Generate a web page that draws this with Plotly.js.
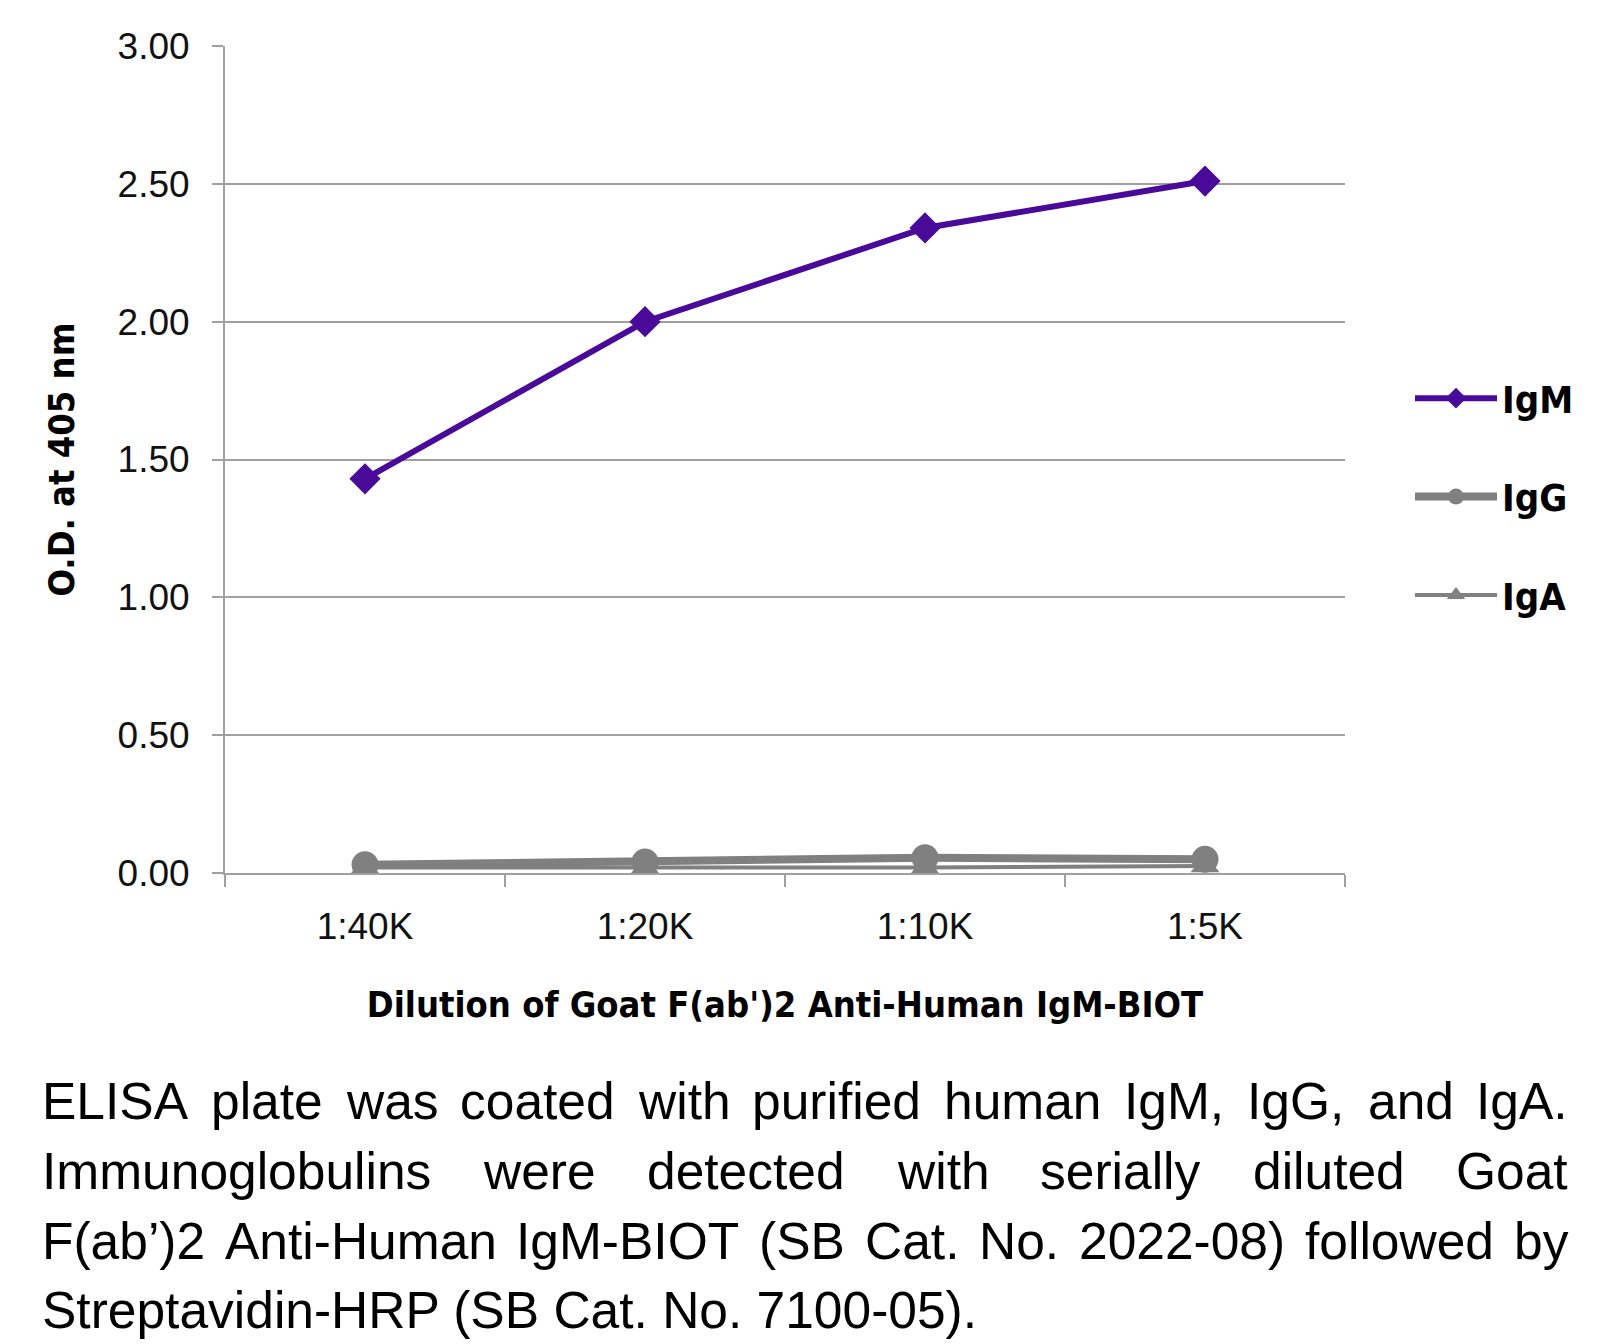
<!DOCTYPE html>
<html><head><meta charset="utf-8">
<script src="https://cdn.plot.ly/plotly-3.0.1.min.js"></script>
<style>html,body{margin:0;padding:0;background:#fff}</style>
</head><body>
<div id="chart" style="width:1614px;height:1344px"></div>
<script>
// ---- data ----
const dilutions = ['1:40K', '1:20K', '1:10K', '1:5K'];
const igmOD = [1.43, 2.00, 2.34, 2.51];
const iggOD = [0.03, 0.04, 0.055, 0.05];
const igaOD = [0.02, 0.02, 0.02, 0.025];
const yTickValues = [0, 0.5, 1, 1.5, 2, 2.5, 3];
const yTickLabels = ['0.00', '0.50', '1.00', '1.50', '2.00', '2.50', '3.00'];
const captionLines = [
  'ELISA plate was coated with purified human IgM, IgG, and IgA.',
  'Immunoglobulins were detected with serially diluted Goat',
  'F(ab’)2 Anti-Human IgM-BIOT (SB Cat. No. 2022-08) followed by',
  'Streptavidin-HRP (SB Cat. No. 7100-05).'
];

// ---- layout geometry ----
const W = 1614, H = 1344;
const L = 225, R = 1345, T = 46, B = 873;
const boldFont = '"DejaVu Sans Condensed", "DejaVu Sans", sans-serif';
const regFont = '"Liberation Sans", Arial, sans-serif';
const capFontSize = 51.5;
const capLeft = 41, capRight = 1567;
const capCenters = [1101, 1171, 1241, 1310];

const purple = '#4a0a99';
const gray = '#808080';
const gridColor = '#a0a0a0';

const traces = [
  {x: dilutions, y: igmOD, name: 'IgM', type: 'scatter', mode: 'lines+markers',
   legendgroup: 'a',
   line: {color: purple, width: 6}, marker: {symbol: 'diamond', size: 24, color: purple}},
  {x: dilutions, y: iggOD, name: 'IgG', type: 'scatter', mode: 'lines+markers',
   legendgroup: 'b',
   line: {color: gray, width: 8}, marker: {symbol: 'circle', size: 27, color: gray}},
  {x: dilutions, y: igaOD, name: 'IgA', type: 'scatter', mode: 'lines+markers',
   legendgroup: 'c',
   line: {color: gray, width: 4}, marker: {symbol: 'triangle-up', size: 25, color: gray}}
];

// caption: justified lines built from word widths
const cnv = document.createElement('canvas').getContext('2d');
cnv.font = capFontSize + 'px "Liberation Sans"';
const px2x = p => (p - L) / (R - L);
const px2y = p => (B - p) / (B - T);
const annotations = [];
captionLines.forEach((line, i) => {
  const yp = px2y(capCenters[i]);
  if (i === captionLines.length - 1) {
    annotations.push({text: line, xref: 'paper', yref: 'paper', x: px2x(capLeft), y: yp,
      xanchor: 'left', yanchor: 'middle', showarrow: false, borderpad: 0,
      font: {family: regFont, size: capFontSize, color: '#000'}});
    return;
  }
  const words = line.split(' ');
  const widths = words.map(w => cnv.measureText(w).width);
  const total = widths.reduce((a, b) => a + b, 0);
  const gap = (capRight - capLeft - total) / (words.length - 1);
  let xpos = capLeft;
  words.forEach((w, k) => {
    annotations.push({text: w, xref: 'paper', yref: 'paper', x: px2x(xpos), y: yp,
      xanchor: 'left', yanchor: 'middle', showarrow: false, borderpad: 0,
      font: {family: regFont, size: capFontSize, color: '#000'}});
    xpos += widths[k] + gap;
  });
});

const layout = {
  width: W, height: H,
  margin: {l: L, r: W - R, t: T, b: H - B, pad: 0},
  paper_bgcolor: '#fff', plot_bgcolor: '#fff',
  showlegend: true,
  legend: {x: px2x(1410), y: px2y(367), xanchor: 'left', yanchor: 'top',
    traceorder: 'grouped', tracegroupgap: 46, itemwidth: 82,
    font: {family: boldFont, size: 38, color: '#000', weight: 'bold'},
    bgcolor: 'rgba(0,0,0,0)'},
  xaxis: {
    type: 'category', range: [-0.5, 3.5], tickson: 'boundaries', ticks: 'outside', ticklen: 12,
    tickcolor: gridColor, tickwidth: 2, showline: true, linecolor: gridColor, linewidth: 2,
    showgrid: false, zeroline: false,
    tickfont: {family: regFont, size: 37, color: '#111'},
    ticklabelstandoff: 20,
    title: {text: "Dilution of Goat F(ab')2 Anti-Human IgM-BIOT", standoff: 45,
      font: {family: boldFont, size: 36, color: '#000', weight: 'bold'}}
  },
  yaxis: {
    range: [0, 3], tickvals: yTickValues, ticktext: yTickLabels,
    ticks: 'outside', ticklen: 11, tickcolor: gridColor, tickwidth: 2,
    showline: true, linecolor: gridColor, linewidth: 2,
    showgrid: true, gridcolor: gridColor, gridwidth: 2, zeroline: false,
    tickfont: {family: regFont, size: 37, color: '#111'},
    ticklabelstandoff: 15,
    title: {text: 'O.D. at 405 nm', standoff: 32,
      font: {family: boldFont, size: 36, color: '#000', weight: 'bold'}}
  },
  annotations: annotations
};

Plotly.newPlot('chart', traces, layout, {displayModeBar: false, staticPlot: true});
</script>
</body></html>
